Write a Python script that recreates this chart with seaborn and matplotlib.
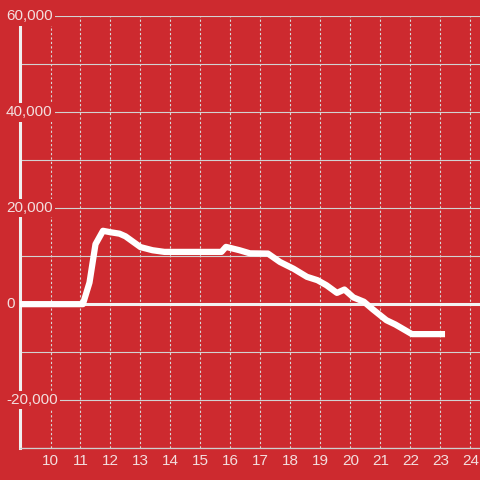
import pandas as pd
import matplotlib
matplotlib.use("Agg")
import matplotlib.pyplot as plt
import seaborn as sns
from matplotlib.ticker import MultipleLocator

# Values
hours = [9.0, 11.0, 11.08, 11.3, 11.5, 11.75, 12.0, 12.3, 12.5, 13.0, 13.4, 13.8,
         15.0, 15.7, 15.85, 16.3, 16.65, 17.25, 17.65, 18.1, 18.55, 18.9, 19.2,
         19.55, 19.8, 20.1, 20.45, 20.75, 21.2, 21.5, 22.05, 23.05]
values = [0, 0, 0, 4500, 12500, 15300, 15000, 14700, 14150, 11900, 11250, 10900,
          10900, 10900, 11950, 11250, 10600, 10550, 8800, 7400, 5700, 5000, 3950,
          2350, 3050, 1400, 500, -1100, -3350, -4250, -6250, -6250]
x_ticks = list(range(10, 25))
y_major = [-20000, 0, 20000, 40000, 60000]

bg = "#cd2a2f"
txt = "#f3dede"

sns.set_style("white")
plt.rcParams["font.family"] = ["Liberation Sans", "DejaVu Sans"]

df = pd.DataFrame({"hour": hours, "value": values})

fig = plt.figure(figsize=(4.8, 4.8), dpi=100, facecolor=bg)
ax = fig.add_axes([20 / 480, 32 / 480, 460 / 480, 432 / 480])
ax.set_facecolor(bg)

sns.lineplot(data=df, x="hour", y="value", color="white", linewidth=4.5,
             ax=ax, zorder=4, sort=False)
for ln in ax.get_lines():
    ln.set_solid_capstyle("projecting")
    ln.set_solid_joinstyle("round")

ax.axhline(0, color="#f2f2f2", linewidth=2.2, zorder=3)

ax.set_xlim(8.983, 24.32)
ax.set_ylim(-30000, 60100)

ax.set_xticks(x_ticks)
ax.set_yticks(y_major)
ax.set_yticklabels([])
ax.yaxis.set_minor_locator(MultipleLocator(10000))

ax.grid(axis="y", which="both", color="#d2d2d2", linewidth=0.8)
ax.grid(axis="x", which="major", color="#d8d8d8", linewidth=0.8,
        linestyle=(0, (2, 2)))

ax.tick_params(axis="both", which="both", length=0, labelsize=11, colors=txt)
ax.tick_params(axis="x", pad=4.5)

# y labels sit over the axis line with a background box
for v in y_major:
    ax.annotate(f"{v:,}", xy=(0, v), xycoords=ax.get_yaxis_transform(),
                xytext=(-14, 0), textcoords="offset pixels", ha="left",
                va="center", fontsize=11, color=txt, zorder=6,
                annotation_clip=False,
                bbox=dict(facecolor=bg, edgecolor="none", pad=1.5))

for s in ["top", "right"]:
    ax.spines[s].set_visible(False)
ax.spines["left"].set_color("#f0f0f0")
ax.spines["left"].set_linewidth(2.2)
ax.spines["bottom"].set_color("#cfcfcf")
ax.spines["bottom"].set_linewidth(0.9)

ax.set_xlabel("")
ax.set_ylabel("")

fig.savefig("out.png", dpi=100, facecolor=bg)
